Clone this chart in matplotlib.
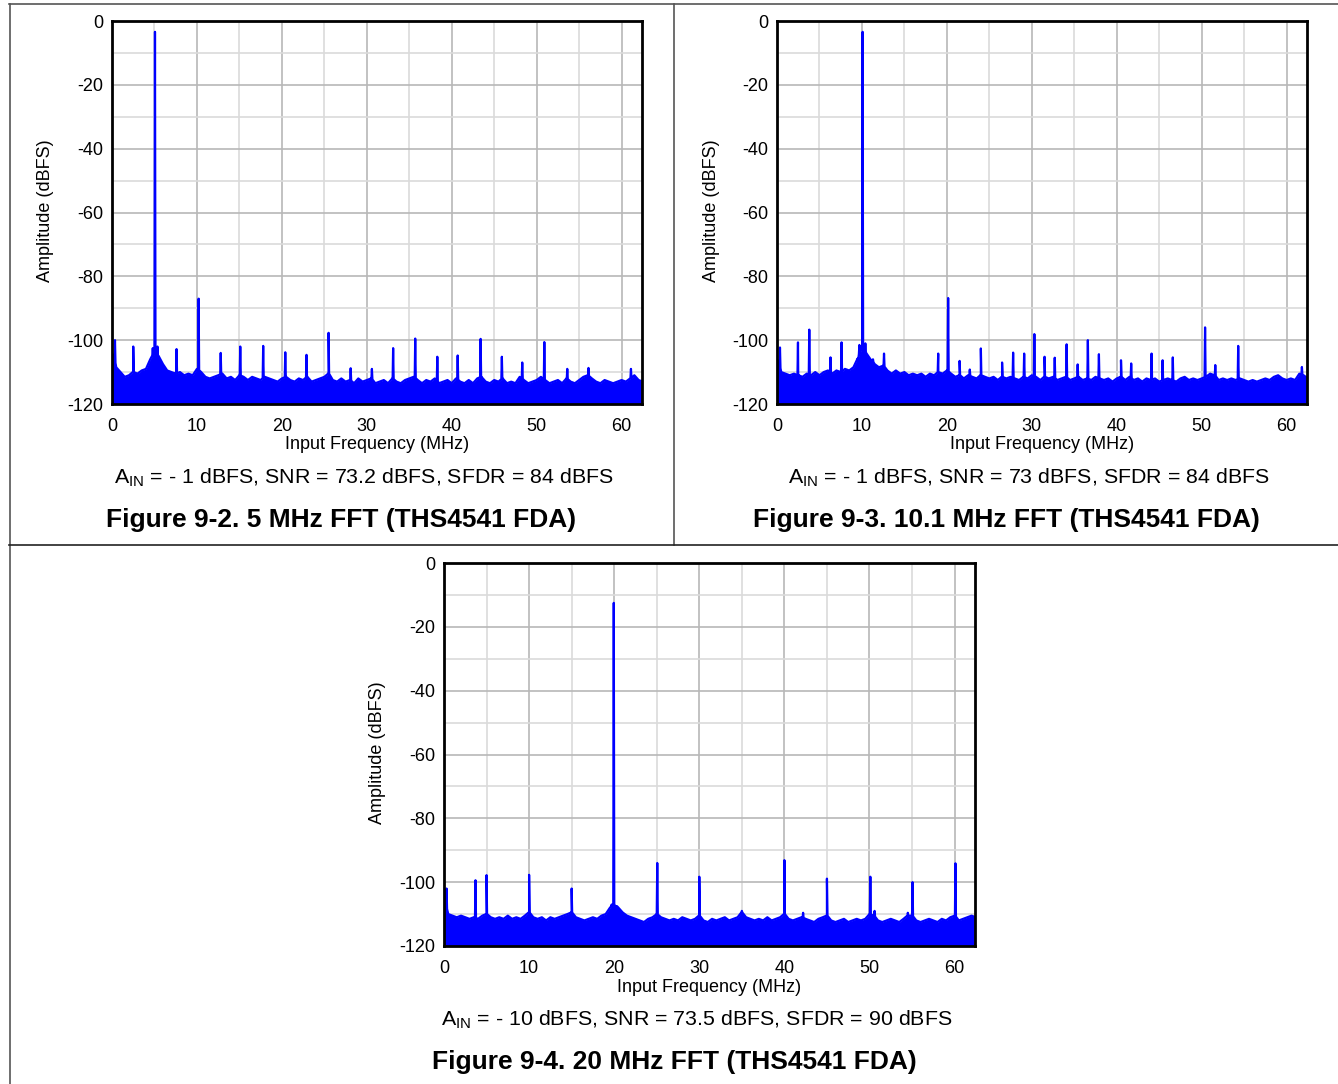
import numpy as np
import matplotlib
matplotlib.use("Agg")
import matplotlib.pyplot as plt
from matplotlib.lines import Line2D

plt.rcParams['font.family'] = ['Liberation Sans', 'DejaVu Sans']
plt.rcParams['mathtext.fontset'] = 'custom'
plt.rcParams['mathtext.rm'] = 'Liberation Sans'
plt.rcParams['mathtext.it'] = 'Liberation Sans'
plt.rcParams['axes.unicode_minus'] = False

# ---------------- data ----------------
floor_freq = [i * 0.5 for i in range(126)]  # MHz, 0 .. 62.5 in 0.5 MHz steps

floor_1 = [-104, -108.5, -110, -111.5, -111, -110, -110.5, -109.5, -109, -106,
           -104, -105, -107.5, -109.5, -110, -110.5, -110, -111, -110.5, -111,
           -109, -110, -111.5, -112, -111.5, -111, -110.5, -112, -111.5, -112.5,
           -111, -111.5, -112.5, -111.5, -112, -112.5, -111.5, -112, -112.5, -113,
           -112, -111.5, -112.5, -113, -112, -112.5, -111.5, -113, -112.5, -112,
           -111.5, -110.5, -112.5, -113, -112, -113, -112.5, -113.5, -112, -113,
           -112.5, -112, -113.5, -113, -112.5, -113.5, -112, -113, -113.5, -112.5,
           -112, -111.5, -112.5, -113.5, -112.5, -113, -112, -113.5, -113, -112.5,
           -113.5, -112, -113, -113.5, -112.5, -113.5, -112, -111.5, -113, -113.5,
           -112.5, -113, -112, -113.5, -113, -113.5, -111.5, -112.5, -113.5, -113,
           -112.5, -111.5, -112.5, -113.5, -113, -112.5, -113.5, -112, -113, -113.5,
           -112.5, -111.5, -111, -112, -113, -113.5, -112.5, -113, -113.5, -113,
           -112.5, -113, -112, -111, -112.5, -113]
fund_1 = (5.06, -3.4)
spur_f_1 = [0.35, 2.5, 4.8, 5.35, 7.6, 10.2, 12.8, 15.1, 17.8, 20.4, 22.9, 25.5, 28.1,
            30.6, 33.1, 35.7, 38.3, 40.7, 43.4, 45.9, 48.3, 50.9, 53.6, 56.1, 61.1]
spur_a_1 = [-100, -102, -102.5, -102, -102.8, -87, -104, -102, -101.8, -103.8, -104.6, -97.7, -108.8,
            -109, -102.5, -99.5, -105.2, -104.8, -99.6, -105.2, -107, -100.6, -109, -108.7, -109]

floor_2 = [-106, -110, -110.5, -111, -110.5, -111, -111.5, -110.5, -111, -110,
           -111, -110, -109.5, -110.5, -109.5, -110, -109, -109.5, -108.5, -106,
           -102, -104, -106, -107.5, -108.5, -108, -109.5, -110.5, -109.5, -110.5,
           -110, -111, -110.5, -111, -110.5, -111.5, -110.5, -111, -110, -110.5,
           -109.5, -110.5, -111.5, -111, -112, -111, -111.5, -112, -111, -111.5,
           -112, -111.5, -112.5, -111.5, -112, -111.5, -112, -112.5, -111.5, -112,
           -111, -111.5, -112.5, -111.5, -112, -111.5, -112.5, -112, -111.5, -112.5,
           -112, -111.5, -112.5, -112, -112.5, -111.5, -112, -112.5, -112, -113,
           -112, -111.5, -112.5, -111.5, -112.5, -112, -113, -112, -112.5, -112,
           -113, -112.5, -112, -112.5, -113, -112, -111.5, -112.5, -112, -112.5,
           -112, -111.5, -110.5, -111, -112.5, -112, -112.5, -112, -112.5, -112,
           -112.5, -113, -112.5, -113, -112.5, -112, -112.5, -111.5, -111, -112,
           -112.5, -112, -112.5, -110.5, -111, -112]
fund_2 = (10.08, -3.4)
spur_f_2 = [0.35, 2.47, 3.8, 6.3, 7.6, 9.5, 9.7, 10.4, 11.3, 12.6, 18.98, 20.15, 21.5, 22.7,
            24.0, 26.5, 27.8, 29.1, 30.3, 31.5, 32.7, 34.1, 35.4, 36.6, 37.9, 40.5,
            41.7, 44.1, 45.4, 46.6, 50.4, 51.6, 54.3, 61.8]
spur_a_2 = [-102.3, -100.7, -96.7, -105.4, -100.7, -105.7, -101.5, -101, -106, -104.2, -104.2, -86.8, -106.5, -109.2,
            -102.6, -107, -103.9, -104.2, -98.1, -105.2, -105.5, -101.3, -107.6, -100, -104.4, -106.3,
            -107.3, -104.2, -106.3, -105.4, -96, -107.8, -101.8, -108.4]

floor_3 = [-106, -110, -110.5, -111, -110.5, -111, -111.5, -111, -111.5, -110.5,
           -110, -111, -111.5, -111, -111.5, -110.5, -111.5, -111, -111.5, -110.5,
           -109.5, -111, -111.5, -111, -112, -111, -111.5, -111, -110.5, -110,
           -109.5, -111, -111.5, -112, -111.5, -111, -111.5, -110.5, -110, -108,
           -107, -108, -109.5, -110.5, -111, -111.5, -112, -112.5, -111.5, -111,
           -110, -111, -111.5, -112, -111.5, -112, -111, -111.5, -112, -111.5,
           -110.5, -112, -112.5, -111.5, -112, -111.5, -111, -112, -111.5, -111,
           -109.5, -111, -111.5, -112, -111.5, -112, -111, -112, -111.5, -111,
           -110, -111.5, -112, -111.5, -111, -111.5, -112, -112.5, -111.5, -111,
           -110.5, -112, -112.5, -112, -111.5, -112.5, -112, -111.5, -112, -111.5,
           -110, -110.5, -112, -112.5, -112, -111.5, -112, -112.5, -111.5, -110.5,
           -110.5, -112, -112.5, -112, -111.5, -112, -112.5, -111.5, -112, -111,
           -110.5, -112, -111.5, -111, -110.5, -111]
fund_3 = (19.95, -12.5)
spur_f_3 = [0.3, 3.7, 5.0, 10.0, 15.0, 19.7, 20.3, 25.06, 30.0, 35.0, 40.0, 42.2, 45.0,
            50.1, 50.6, 54.5, 55.06, 60.1]
spur_a_3 = [-102, -99.4, -97.8, -97.7, -102, -107, -107.5, -94, -98.3, -109, -93.1, -109.6, -98.9,
            -98.3, -109, -109.6, -100, -94.1]

xticks = [0, 10, 20, 30, 40, 50, 60]
yticks = [0, -20, -40, -60, -80, -100, -120]

captions = [r"A$_{\mathrm{IN}}$ = - 1 dBFS, SNR = 73.2 dBFS, SFDR = 84 dBFS",
            r"A$_{\mathrm{IN}}$ = - 1 dBFS, SNR = 73 dBFS, SFDR = 84 dBFS",
            r"A$_{\mathrm{IN}}$ = - 10 dBFS, SNR = 73.5 dBFS, SFDR = 90 dBFS"]
titles = ["Figure 9-2. 5 MHz FFT (THS4541 FDA)",
          "Figure 9-3. 10.1 MHz FFT (THS4541 FDA)",
          "Figure 9-4. 20 MHz FFT (THS4541 FDA)"]
xlabel = "Input Frequency (MHz)"
ylabel = "Amplitude (dBFS)"

# ---------------- figure ----------------
W, H = 1338, 1084
fig = plt.figure(figsize=(W / 100, H / 100), dpi=100)

def fx(x):
    return x / W

def fy(y):
    return 1 - y / H

def build_trace(floor, fund, spur_f, spur_a):
    ff = np.array(floor_freq, float)
    fl = np.array(floor, float)
    pts = [(f, a) for f, a in zip(ff, fl)]
    peaks = list(zip(spur_f, spur_a)) + [fund]
    for f, a in peaks:
        base = float(np.interp(f, ff, fl))
        pts.append((f - 0.06, base))
        pts.append((f, a))
        pts.append((f + 0.06, base))
    pts.sort(key=lambda p: p[0])
    x = np.array([p[0] for p in pts])
    y = np.array([p[1] for p in pts])
    return x, y

panels = [
    dict(ax=(112, 21, 642, 404), floor=floor_1, fund=fund_1, sf=spur_f_1, sa=spur_a_1,
         ylab_x=46, xlab_y=445, cap=(364, 478), tit=(341, 520)),
    dict(ax=(777, 21, 1307, 404), floor=floor_2, fund=fund_2, sf=spur_f_2, sa=spur_a_2,
         ylab_x=711, xlab_y=445, cap=(1029, 478), tit=(1006, 520)),
    dict(ax=(444, 563, 975, 946), floor=floor_3, fund=fund_3, sf=spur_f_3, sa=spur_a_3,
         ylab_x=378, xlab_y=987, cap=(697, 1020), tit=(674, 1062)),
]

blue = '#0000ff'
for i, p in enumerate(panels):
    x0, y0, x1, y1 = p['ax']
    ax = fig.add_axes([fx(x0), fy(y1), (x1 - x0) / W, (y1 - y0) / H])
    x, y = build_trace(p['floor'], p['fund'], p['sf'], p['sa'])
    ax.fill_between(x, -130, y, color=blue, linewidth=0, zorder=3)
    ax.plot(x, y, color=blue, linewidth=1.6, zorder=4)
    ax.set_xlim(0, 62.4)
    ax.set_ylim(-120, 0)
    ax.set_xticks(xticks)
    ax.set_yticks(yticks)
    ax.set_xticks([5, 15, 25, 35, 45, 55], minor=True)
    ax.set_yticks([-10, -30, -50, -70, -90, -110], minor=True)
    ax.grid(True, which='major', color='#b8b8b8', linewidth=1.2, zorder=0)
    ax.grid(True, which='minor', color='#dadada', linewidth=1.2, zorder=0)
    ax.set_axisbelow(True)
    ax.tick_params(which='both', length=0)
    ax.tick_params(axis='y', pad=6, labelsize=13)
    ax.tick_params(axis='x', pad=10, labelsize=13)
    for s in ax.spines.values():
        s.set_linewidth(2.0)
        s.set_color('black')
        s.set_zorder(6)
    cx = (x0 + x1) / 2
    fig.text(fx(cx), fy(p['xlab_y']), xlabel, ha='center', va='center', fontsize=13)
    fig.text(fx(p['ylab_x']), fy((y0 + y1) / 2 - 2), ylabel, ha='center', va='center',
             rotation=90, fontsize=13)
    fig.text(fx(p['cap'][0]), fy(p['cap'][1]), captions[i], ha='center', va='center',
             fontsize=15.4)
    fig.text(fx(p['tit'][0]), fy(p['tit'][1]), titles[i], ha='center', va='center',
             fontsize=19, fontweight='bold')

# panel border lines
border_kw = dict(transform=fig.transFigure, color='#555555', linewidth=1.2)
fig.add_artist(Line2D([fx(9), 1], [fy(3.5), fy(3.5)], **border_kw))
fig.add_artist(Line2D([fx(9.5), fx(9.5)], [fy(3.5), 0], **border_kw))
fig.add_artist(Line2D([fx(674), fx(674)], [fy(3.5), fy(545)], **border_kw))
fig.add_artist(Line2D([fx(9), 1], [fy(545), fy(545)], color='#222222', linewidth=1.2,
                      transform=fig.transFigure))

fig.savefig("out.png", dpi=100)
